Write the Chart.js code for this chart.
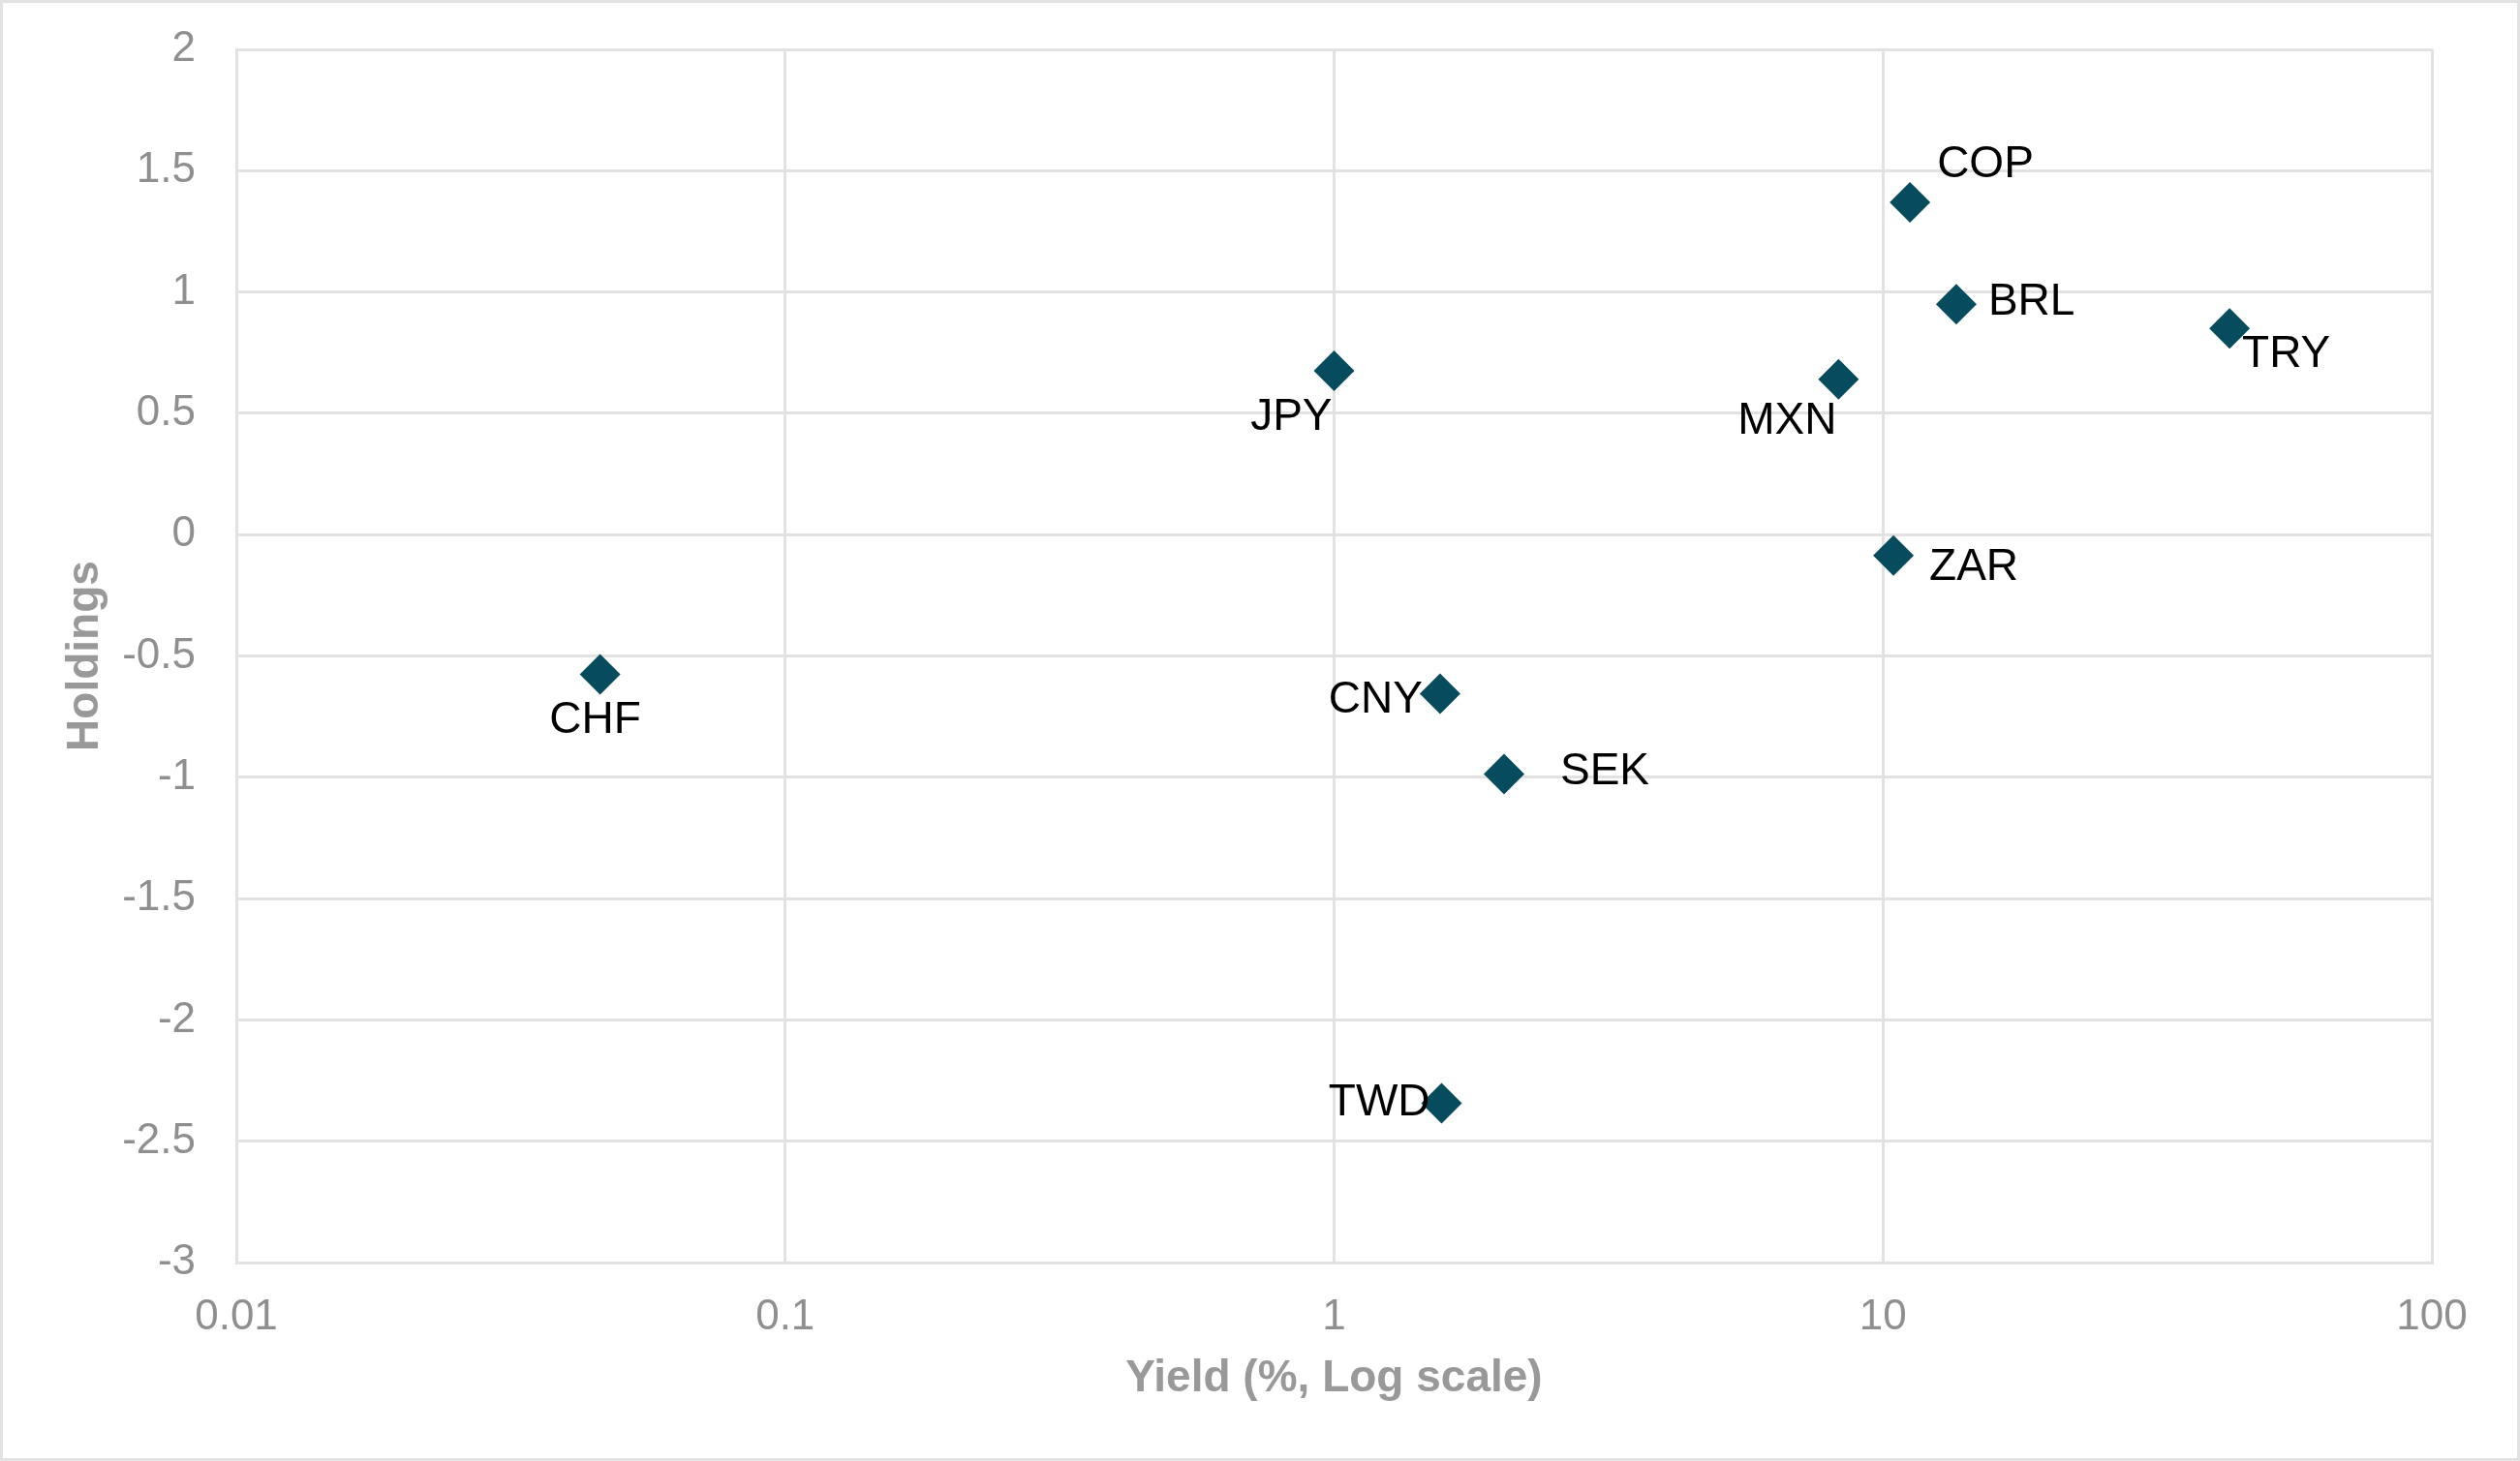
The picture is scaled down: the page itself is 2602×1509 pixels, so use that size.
<!DOCTYPE html>
<html lang="en">
<head>
  <meta charset="UTF-8" />
  <title>Holdings vs Yield</title>
  <script src="https://cdn.jsdelivr.net/npm/chart.js"></script>
  <style>
    html, body {
      margin: 0;
      padding: 0;
      background: #ffffff;
    }

    #chart {
      display: block;
      outline: 3px solid #e2e2e2;
      outline-offset: -3px;
    }
  </style>
</head>
<body>
  <canvas id="chart" width="2602" height="1509"></canvas>

  <script>
    // currencies and their readings
    const currencies = ['COP', 'BRL', 'TRY', 'JPY', 'MXN', 'ZAR', 'CHF', 'CNY', 'SEK', 'TWD'];
    const yields = [11.2, 13.6, 42.8, 1.0, 8.3, 10.45, 0.046, 1.56, 2.04, 1.57];
    const holdings = [1.37, 0.95, 0.85, 0.675, 0.64, -0.086, -0.576, -0.656, -0.987, -2.344];

    const xTicks = [0.01, 0.1, 1, 10, 100];
    const yMin = -3;
    const yMax = 2;
    const yStep = 0.5;

    // where each label sits next to its marker (px offset + text alignment)
    const labelPlacement = {
      COP: { dx: 28, dy: -39, align: 'left' },
      BRL: { dx: 33, dy: -2, align: 'left' },
      TRY: { dx: 13, dy: 27, align: 'left' },
      JPY: { dx: -2, dy: 48, align: 'right' },
      MXN: { dx: -2, dy: 43, align: 'right' },
      ZAR: { dx: 37, dy: 13, align: 'left' },
      CHF: { dx: -5, dy: 48, align: 'center' },
      CNY: { dx: -18, dy: 7, align: 'right' },
      SEK: { dx: 58, dy: -2, align: 'left' },
      TWD: { dx: -12, dy: 0, align: 'right' }
    };

    const fontFamily = '"Liberation Sans", Arial, sans-serif';
    const gridColor = '#e2e2e2';

    const pointLabels = {
      id: 'pointLabels',
      afterDatasetsDraw(chart) {
        const ctx = chart.ctx;
        const meta = chart.getDatasetMeta(0);
        ctx.save();
        ctx.font = '46px ' + fontFamily;
        ctx.fillStyle = '#000000';
        ctx.textBaseline = 'middle';
        meta.data.forEach((pt, i) => {
          const p = labelPlacement[currencies[i]];
          ctx.textAlign = p.align;
          ctx.fillText(currencies[i], pt.x + p.dx, pt.y + p.dy);
        });
        ctx.restore();
      }
    };

    const ctx = document.getElementById('chart').getContext('2d');
    const chart = new Chart(ctx, {
      type: 'scatter',
      data: {
        datasets: [{
          label: 'Holdings',
          data: yields.map((y, i) => ({ x: y, y: holdings[i] })),
          pointStyle: 'rectRot',
          pointRadius: 21,
          pointBorderWidth: 0,
          backgroundColor: '#064b5e',
          borderColor: '#064b5e'
        }]
      },
      options: {
        responsive: false,
        devicePixelRatio: 1,
        animation: false,
        events: [],
        layout: {
          padding: { top: 51, right: 91, left: 0, bottom: 0 }
        },
        plugins: {
          legend: { display: false },
          tooltip: { enabled: false }
        },
        scales: {
          x: {
            type: 'logarithmic',
            min: xTicks[0],
            max: xTicks[xTicks.length - 1],
            afterBuildTicks(scale) {
              scale.ticks = xTicks.map(v => ({ value: v }));
            },
            afterFit(scale) {
              scale.height = 205;
              scale.paddingLeft = 0;
              scale.paddingRight = 0;
            },
            grid: {
              color: gridColor,
              lineWidth: 3,
              drawTicks: false
            },
            border: { color: gridColor, width: 3 },
            ticks: {
              padding: 30,
              color: '#8f8f8f',
              font: { family: fontFamily, size: 44 },
              maxRotation: 0,
              callback: v => String(v)
            },
            title: {
              display: true,
              text: 'Yield (%, Log scale)',
              color: '#999999',
              font: { family: fontFamily, size: 46, weight: 'bold', lineHeight: 1.2 },
              padding: { top: 0, bottom: 57 }
            }
          },
          y: {
            min: yMin,
            max: yMax,
            afterFit(scale) {
              scale.width = 244;
              scale.paddingTop = 0;
              scale.paddingBottom = 0;
            },
            grid: {
              color: gridColor,
              lineWidth: 3,
              drawTicks: false
            },
            border: { color: gridColor, width: 3 },
            ticks: {
              stepSize: yStep,
              padding: 42,
              color: '#8f8f8f',
              font: { family: fontFamily, size: 44 },
              callback: v => String(v)
            },
            title: {
              display: true,
              text: 'Holdings',
              color: '#999999',
              font: { family: fontFamily, size: 46, weight: 'bold', lineHeight: 1.2 },
              padding: { top: 61, bottom: 0 }
            }
          }
        }
      },
      plugins: [pointLabels]
    });
  </script>
</body>
</html>
